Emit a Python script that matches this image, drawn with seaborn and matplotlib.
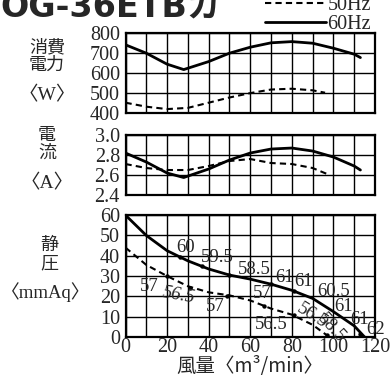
import numpy as np
import pandas as pd
import seaborn as sns
import matplotlib.pyplot as plt

# 消費電力 <W>
flow_w60 = [0, 10, 20, 28, 40, 50, 60, 70, 80, 90, 100, 110, 113]
watt_60 = [742, 700, 645, 618, 658, 700, 730, 752, 758, 750, 725, 695, 678]
flow_w50 = [0, 10, 20, 30, 40, 50, 60, 70, 80, 90, 96]
watt_50 = [452, 432, 420, 426, 452, 478, 500, 518, 522, 514, 502]

# 電流 <A>
flow_a60 = [0, 10, 20, 28, 40, 50, 60, 70, 80, 90, 100, 110, 113]
amp_60 = [2.82, 2.73, 2.62, 2.575, 2.66, 2.75, 2.82, 2.86, 2.87, 2.84, 2.78, 2.69, 2.65]
flow_a50 = [0, 10, 20, 30, 40, 50, 60, 70, 80, 90, 97]
amp_50 = [2.71, 2.67, 2.65, 2.65, 2.69, 2.74, 2.76, 2.72, 2.71, 2.67, 2.61]

# 静圧 <mmAq>
flow_p60 = [0, 10, 20, 30, 40, 50, 60, 70, 80, 90, 100, 110, 115]
pres_60 = [60, 50, 42.5, 37.5, 33.5, 30.5, 28.5, 26, 23, 19, 12.5, 5.5, 0]
flow_p50 = [0, 10, 20, 30, 40, 50, 60, 70, 80, 90, 98]
pres_50 = [44, 35.5, 30, 25, 22, 20.5, 18, 14, 11, 6, 0]

# marked points on the pressure curves
mark_x60 = [26, 37, 50, 70, 81, 113]
mark_y60 = [39.5, 35, 30.5, 26, 22.5, 1.3]
mark_x50 = [20, 31, 49, 66.7, 81, 97]
mark_y50 = [30, 24.3, 20.3, 15.2, 10.8, 1]

# annotations (noise figures)
note60 = ['60', '59.5', '58.5', '61', '61', '60.5', '61', '61', '62']
note60_x = [28.7, 44, 62, 76.3, 85.8, 100, 105, 112.8, 120.5]
note60_y = [44, 39.1, 33.4, 29.3, 27.3, 22.4, 15, 8.4, 3.6]
note50 = ['57', '56.5', '57', '57', '56.5', '56.5', '58.5']
note50_x = [11.2, 25.8, 43.2, 66, 70, 90, 99]
note50_y = [25, 20.7, 15, 21.4, 6, 10.5, 4.5]
note50_rot = [0, -10, 0, 0, 0, -32, -48]
note50_style = ['normal', 'italic', 'normal', 'normal', 'normal', 'normal', 'normal']

sns.set_theme(style='white')
plt.rcParams['font.family'] = ['Liberation Serif', 'Noto Sans CJK JP']
plt.rcParams['axes.edgecolor'] = 'black'

fig = plt.figure(figsize=(3.91, 3.82), dpi=100)
left, width = 0.321, 0.638
ax_w = fig.add_axes([left, 0.704, width, 0.209])
ax_a = fig.add_axes([left, 0.4895, width, 0.157])
ax_p = fig.add_axes([left, 0.1178, width, 0.319])

dash = (0, (3, 2))
sns.lineplot(x=flow_w50, y=watt_50, ax=ax_w, color='black', lw=1.5, ls=dash, label='50Hz')
sns.lineplot(x=flow_w60, y=watt_60, ax=ax_w, color='black', lw=2.0, label='60Hz')
sns.lineplot(x=flow_a50, y=amp_50, ax=ax_a, color='black', lw=1.5, ls=dash)
sns.lineplot(x=flow_a60, y=amp_60, ax=ax_a, color='black', lw=2.0)
sns.lineplot(x=flow_p50, y=pres_50, ax=ax_p, color='black', lw=1.5, ls=dash)
sns.lineplot(x=flow_p60, y=pres_60, ax=ax_p, color='black', lw=2.0)
sns.scatterplot(x=mark_x60, y=mark_y60, ax=ax_p, color='black', s=10, linewidth=0)
sns.scatterplot(x=mark_x50, y=mark_y50, ax=ax_p, color='black', s=10, linewidth=0)

for t, x, y in zip(note60, note60_x, note60_y):
    ax_p.text(x, y, t, ha='center', va='center', fontsize=13.5, clip_on=False)
for t, x, y, r, s in zip(note50, note50_x, note50_y, note50_rot, note50_style):
    ax_p.text(x, y, t, ha='center', va='center', fontsize=13.5, rotation=r, style=s,
              rotation_mode='anchor')

handles, labels = ax_w.get_legend_handles_labels()
ax_w.get_legend().remove()

ylims = [(400, 800, 100), (2.4, 3.0, 0.2), (0, 60, 10)]
for ax, (lo, hi, step) in zip([ax_w, ax_a, ax_p], ylims):
    ax.set_xlim(0, 120)
    ax.set_ylim(lo, hi)
    ax.set_xticks(np.arange(0, 121, 20))
    ax.set_xticks(np.arange(10, 120, 20), minor=True)
    ax.set_yticks(np.arange(lo, hi + step / 2, step))
    ax.grid(True, which='both', color='black', lw=1.0)
    ax.set_axisbelow(True)
    for sp in ax.spines.values():
        sp.set_linewidth(1.6)
        sp.set_color('black')
    ax.tick_params(axis='both', which='both', length=0, labelsize=14.5)
    ax.tick_params(axis='y', pad=4)
    ax.set_xlabel('')
    ax.set_ylabel('')
ax_w.tick_params(axis='x', labelbottom=False)
ax_a.tick_params(axis='x', labelbottom=False)
ax_a.set_yticklabels([f'{v:.1f}' for v in np.arange(2.4, 3.01, 0.2)])
ax_p.tick_params(axis='x', pad=1)

cjk = ['Noto Sans CJK JP', 'Liberation Serif']
ax_p.set_xlabel('風量〈m³/min〉', fontsize=14, labelpad=-1, family=cjk)
fig.text(0.12, 1 - 56 / 382, '消費\n電力', ha='center', va='center', fontsize=13,
         family=cjk, linespacing=0.95)
fig.text(0.12, 1 - 95 / 382, '〈W〉', ha='center', va='center', fontsize=14)
fig.text(0.12, 1 - 144 / 382, '電\n流', ha='center', va='center', fontsize=13,
         family=cjk, linespacing=0.95)
fig.text(0.12, 1 - 183 / 382, '〈A〉', ha='center', va='center', fontsize=14)
fig.text(0.125, 1 - 254 / 382, '静\n圧', ha='center', va='center', fontsize=13,
         family=cjk, linespacing=1.05)
fig.text(0.118, 1 - 292 / 382, '〈mmAq〉', ha='center', va='center', fontsize=13.5)

fig.text(0.0, 1 - 17 / 382, 'OG-36ETBカ', ha='left', va='baseline', fontsize=24,
         fontweight='bold', family=['DejaVu Sans', 'Noto Sans CJK JP'])

fig.legend(handles, labels, loc='upper right', bbox_to_anchor=(0.975, 1.038),
           frameon=False, fontsize=14.5, handlelength=3.0, handletextpad=0.1,
           labelspacing=0.0, borderpad=0)

fig.savefig('out.png', dpi=100)
